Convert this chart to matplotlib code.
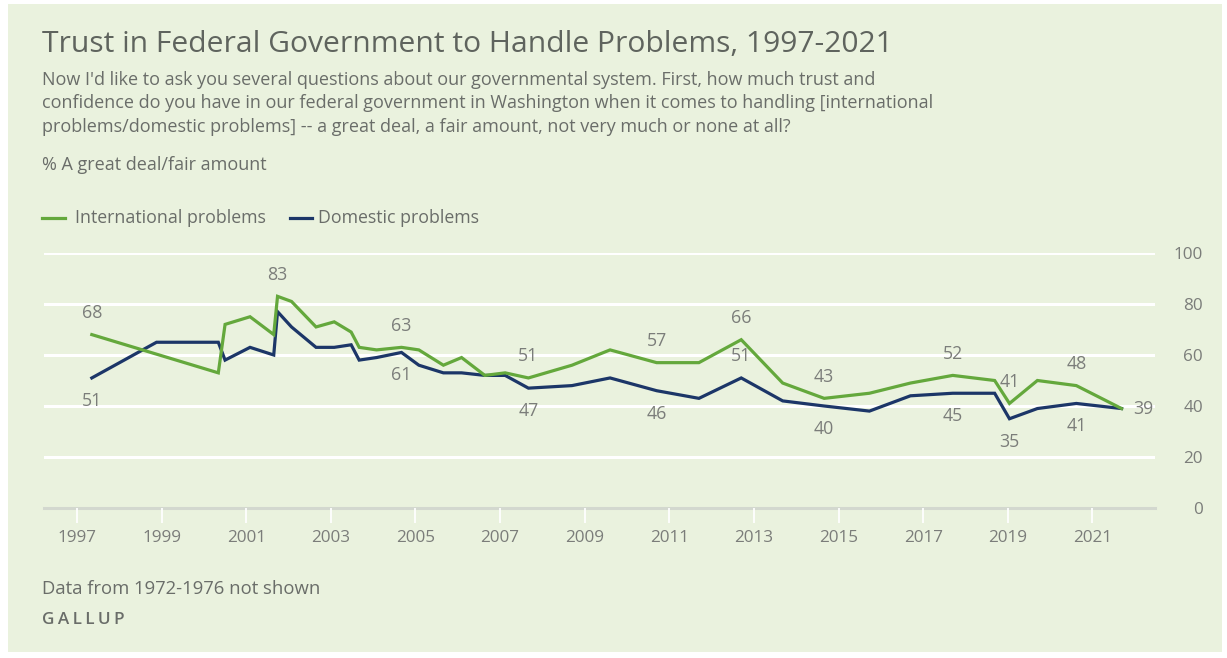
import matplotlib
matplotlib.use("Agg")
import matplotlib.pyplot as plt
from matplotlib.patches import Rectangle

# ---- data ----
years = [1997.35, 1998.88, 2000.34, 2000.5, 2001.09, 2001.65, 2001.74, 2002.07,
         2002.65, 2003.08, 2003.48, 2003.67, 2004.08, 2004.67, 2005.08, 2005.66,
         2006.09, 2006.64, 2007.12, 2007.67, 2008.7, 2009.6, 2010.7, 2011.7,
         2012.7, 2013.68, 2014.66, 2015.73, 2016.7, 2017.7, 2018.69, 2019.04,
         2019.7, 2020.62, 2021.69]
international = [68, None, 53, 72, 75, 68, 83, 81, 71, 73, 69, 63, 62, 63, 62, 56,
                 59, 52, 53, 51, 56, 62, 57, 57, 66, 49, 43, 45, 49, 52, 50, 41,
                 50, 48, 39]
domestic = [51, 65, 65, 58, 63, 60, 77, 71, 63, 63, 64, 58, 59, 61, 56, 53,
            53, 52, 52, 47, 48, 51, 46, 43, 51, 42, 40, 38, 44, 45, 45, 35,
            39, 41, 39]
x_ticks = list(range(1997, 2022, 2))
y_ticks = [0, 20, 40, 60, 80, 100]

# labelled points: (index, placement)
intl_labels = [(0, "above"), (6, "above"), (13, "above"), (19, "above"), (22, "above"),
               (24, "above"), (26, "above"), (29, "above"), (31, "above"),
               (33, "above"), (34, "right")]
dom_labels = [(0, "below"), (13, "below"), (19, "below"), (22, "below"), (24, "above"),
              (26, "below"), (29, "below"), (31, "below"), (33, "below")]

GREEN = "#64a83c"
BLUE = "#1c3668"
BG = "#eaf2de"
TXT = "#6a6d69"
NUM = "#7b7d7a"

plt.rcParams["font.family"] = ["Open Sans", "DejaVu Sans"]
FS = 12.3
TFS = 13.0

fig = plt.figure(figsize=(12.27, 6.58), dpi=100)
fig.patch.set_facecolor("white")
fig.patches.append(Rectangle((8 / 1227, 1 - 652 / 658), 1214 / 1227, 648 / 658,
                             transform=fig.transFigure, facecolor=BG,
                             edgecolor="none", zorder=-10))

ax = fig.add_axes([44 / 1227, 1 - 508 / 658, 1111 / 1227, 255 / 658])
ax.set_facecolor("none")
for s in ax.spines.values():
    s.set_visible(False)

ax.set_xlim(1996.22, 2022.48)
ax.set_ylim(0, 100)

for yv in y_ticks:
    if yv == 0:
        ax.axhline(yv, color="#d3d8cf", lw=2.2, zorder=1, clip_on=False)
    else:
        ax.axhline(yv, color="white", lw=2.2, zorder=1)

ax.yaxis.tick_right()
ax.set_yticks(y_ticks)
ax.set_yticklabels([str(v) for v in y_ticks], fontsize=FS, color=NUM, ha="right")
ax.tick_params(axis="y", length=0, pad=34.5)
ax.set_xticks(x_ticks)
ax.set_xticklabels([str(v) for v in x_ticks], fontsize=FS, color=NUM)
ax.tick_params(axis="x", length=11, width=1.3, color="white", pad=5, direction="out")

gx = [y for y, v in zip(years, international) if v is not None]
gy = [v for v in international if v is not None]
dx = [y for y, v in zip(years, domestic) if v is not None]
dy = [v for v in domestic if v is not None]

ax.plot(dx, dy, color=BLUE, lw=2.3, zorder=3, solid_joinstyle="miter")
ax.plot(gx, gy, color=GREEN, lw=2.3, zorder=4, solid_joinstyle="miter")

def place(series, idx, mode):
    xv, yv = years[idx], series[idx]
    if mode == "above":
        ax.annotate(str(yv), (xv, yv), xytext=(0, 9), textcoords="offset points",
                    ha="center", va="bottom", fontsize=FS + 0.5, color=NUM)
    elif mode == "below":
        ax.annotate(str(yv), (xv, yv), xytext=(0, -10), textcoords="offset points",
                    ha="center", va="top", fontsize=FS + 0.5, color=NUM)
    else:
        ax.annotate(str(yv), (xv, yv), xytext=(8, 0), textcoords="offset points",
                    ha="left", va="center", fontsize=FS + 0.5, color=NUM)

for i, m in intl_labels:
    place(international, i, m)
for i, m in dom_labels:
    place(domestic, i, m)

# ---- texts ----
def ftext(x, y, s, **kw):
    fig.text(x / 1227, 1 - y / 658, s, **kw)

ftext(42, 45, "Trust in Federal Government to Handle Problems, 1997-2021",
      fontsize=21.6, color="#5f645e", va="center", ha="left")
sub = ("Now I'd like to ask you several questions about our governmental system. First, how much trust and\n"
       "confidence do you have in our federal government in Washington when it comes to handling [international\n"
       "problems/domestic problems] -- a great deal, a fair amount, not very much or none at all?")
ftext(42, 71, sub, fontsize=TFS, color=TXT, va="top", ha="left", linespacing=1.38)
ftext(42, 165, "% A great deal/fair amount", fontsize=TFS, color=TXT, va="center")

# legend
fig.lines.append(plt.Line2D([42 / 1227, 65 / 1227], [1 - 218 / 658] * 2,
                            transform=fig.transFigure, color=GREEN, lw=2.3))
ftext(75, 218, "International problems", fontsize=12.8, color=TXT, va="center")
fig.lines.append(plt.Line2D([290 / 1227, 312 / 1227], [1 - 218 / 658] * 2,
                            transform=fig.transFigure, color=BLUE, lw=2.3))
ftext(318, 218, "Domestic problems", fontsize=12.8, color=TXT, va="center")

ftext(42, 589, "Data from 1972-1976 not shown", fontsize=13.3, color=TXT, va="center")
ftext(42, 620, "\u2009".join("GALLUP"), fontsize=FS, color=TXT, va="center",
      fontweight="semibold")

fig.savefig("out.png", dpi=100, facecolor=fig.get_facecolor())
